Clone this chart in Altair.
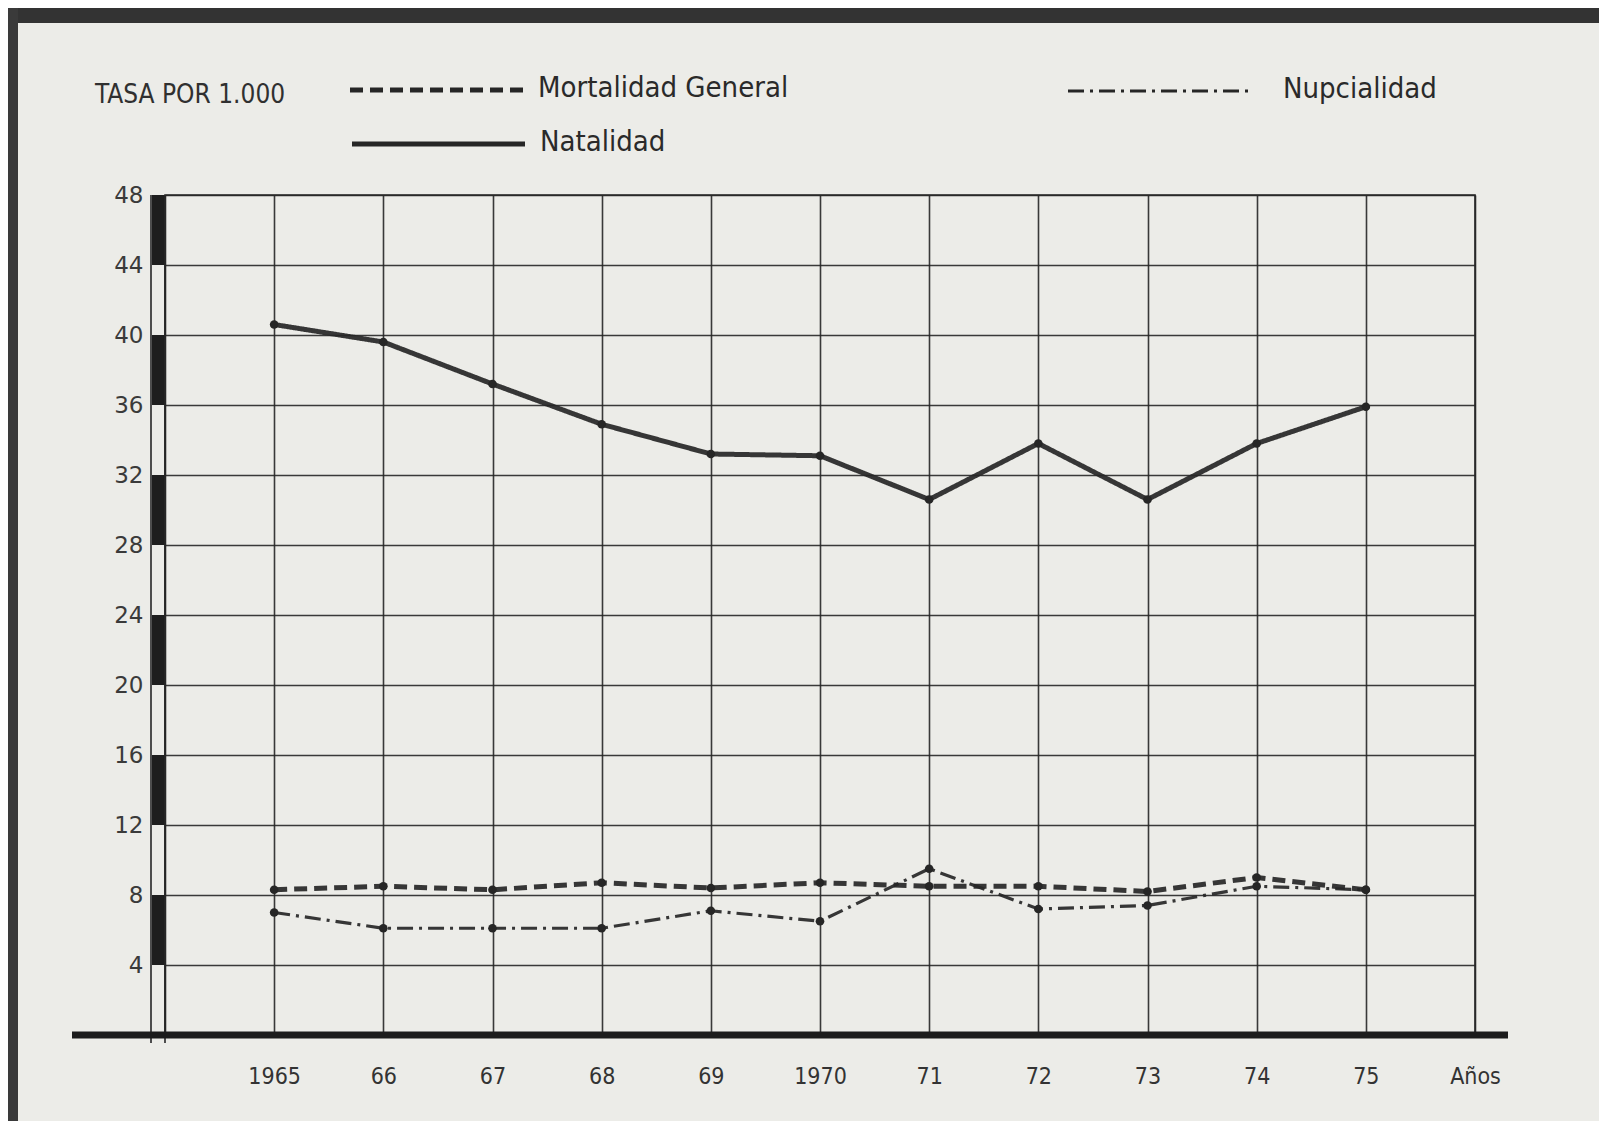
import altair as alt
import pandas as pd

# ---- data ----
years = [1965, 1966, 1967, 1968, 1969, 1970, 1971, 1972, 1973, 1974, 1975]
natalidad = [40.6, 39.6, 37.2, 34.9, 33.2, 33.1, 30.6, 33.8, 30.6, 33.8, 35.9]
mortalidad = [8.3, 8.5, 8.3, 8.7, 8.4, 8.7, 8.5, 8.5, 8.2, 9.0, 8.3]
nupcialidad = [7.0, 6.1, 6.1, 6.1, 7.1, 6.5, 9.5, 7.2, 7.4, 8.5, 8.3]

series_names = ["Mortalidad General", "Natalidad", "Nupcialidad"]
x_tick_values = [1964, 1965, 1966, 1967, 1968, 1969, 1970, 1971, 1972, 1973, 1974, 1975, 1976]
x_tick_labels = ["", "1965", "66", "67", "68", "69", "1970", "71", "72", "73", "74", "75", "Años"]
y_tick_values = [4, 8, 12, 16, 20, 24, 28, 32, 36, 40, 44, 48]
scale_bar_starts = [4, 12, 20, 28, 36, 44]
y_title = "TASA POR 1.000"

rows = []
for name, vals in zip(series_names, [mortalidad, natalidad, nupcialidad]):
    for yr, v in zip(years, vals):
        rows.append({"serie": name, "year": yr, "tasa": v})
df = pd.DataFrame(rows)

W, H = 1310, 840
INK = "#262626"
FONT = "DejaVu Sans Condensed"
BG = "#ecece8"

label_expr = "[" + ",".join("'" + s + "'" for s in x_tick_labels) + "][datum.value - 1964]"

x_scale = alt.Scale(domain=[1964, 1976], nice=False, zero=False)
y_scale = alt.Scale(domain=[0, 48], nice=False)

x_axis = alt.Axis(values=x_tick_values, labelExpr=label_expr, grid=True, ticks=False,
                  domain=False, title=None, labelFont=FONT, labelFontSize=23,
                  labelColor="#333333", labelPadding=30, labelBaseline="top",
                  labelAlign="center", gridColor=INK, gridWidth=1.6, gridOpacity=0.9,
                  labelOverlap=False, labelBound=False, labelFlush=False)
y_axis = alt.Axis(values=y_tick_values, grid=True, ticks=False, domain=False, title=None,
                  labelFont="DejaVu Sans", labelFontSize=23, labelColor="#3a3a3a",
                  labelPadding=22, gridColor=INK, gridWidth=1.6, gridOpacity=0.9,
                  labelOverlap=False, labelFlush=False)

dash = {
    "Mortalidad General": [13, 7],
    "Natalidad": [1, 0],
    "Nupcialidad": [16, 6, 3, 6],
}
width_of = {"Mortalidad General": 5, "Natalidad": 5, "Nupcialidad": 3.2}

one = pd.DataFrame({"k": [0]})

layers = []

# frame decoration
layers.append(alt.Chart(one).mark_rect(color="#333333").encode(
    x=alt.value(-165), x2=alt.value(1450), y=alt.value(-192), y2=alt.value(-172)))
layers.append(alt.Chart(one).mark_rect(color="#3a3a3a").encode(
    x=alt.value(-165), x2=alt.value(-147), y=alt.value(-195), y2=alt.value(H + 100)))

# base grid layer with axes
base = alt.Chart(df).encode(
    x=alt.X("year:Q", scale=x_scale, axis=x_axis),
    y=alt.Y("tasa:Q", scale=y_scale, axis=y_axis),
)

# left scale bar
bar_df = pd.DataFrame({"y0": scale_bar_starts, "y1": [v + 4 for v in scale_bar_starts]})
layers.append(alt.Chart(bar_df).mark_rect(color="#1e1e1e").encode(
    x=alt.value(-13), x2=alt.value(0),
    y=alt.Y("y0:Q", scale=y_scale, axis=y_axis), y2="y1:Q"))
layers.append(alt.Chart(one).mark_rule(color=INK, strokeWidth=1.6).encode(
    x=alt.value(-14), y=alt.value(0), y2=alt.value(H + 8)))
layers.append(alt.Chart(one).mark_rule(color=INK, strokeWidth=1.6).encode(
    x=alt.value(0), y=alt.value(0), y2=alt.value(H + 8)))

# data lines
for name in series_names:
    sub = base.transform_filter(alt.datum.serie == name)
    layers.append(sub.mark_line(color=INK, strokeWidth=width_of[name],
                                strokeDash=dash[name], opacity=0.92))
    layers.append(sub.mark_circle(color=INK, size=75, opacity=1))

# baseline
layers.append(alt.Chart(one).mark_rule(color="#1c1c1c", strokeWidth=7).encode(
    x=alt.value(-93), x2=alt.value(1343), y=alt.value(H), y2=alt.value(H)))

# legend / title text
legend_pos = {
    "Mortalidad General": (185, 363, -105, 373),
    "Natalidad": (187, 360, -51, 375),
    "Nupcialidad": (903, 1085, -104, 1118),
}
layers.append(alt.Chart(one).mark_text(text=y_title, font=FONT, fontSize=26, color="#303030",
                                        align="left", baseline="middle").encode(
    x=alt.value(-70), y=alt.value(-100)))
for name in series_names:
    x0, x1, yy, tx = legend_pos[name]
    layers.append(alt.Chart(one).mark_rule(color=INK, strokeWidth=width_of[name],
                                           strokeDash=dash[name]).encode(
        x=alt.value(x0), x2=alt.value(x1), y=alt.value(yy), y2=alt.value(yy)))
    layers.append(alt.Chart(one).mark_text(text=name, font=FONT, fontSize=29, color="#2a2a2a",
                                            align="left", baseline="middle").encode(
        x=alt.value(tx), y=alt.value(yy - 2)))

chart = alt.layer(base.mark_point(opacity=0), *layers).properties(
    width=W, height=H,
    background=BG,
    padding={"left": 157, "top": 187, "right": 124, "bottom": 86},
    autosize=alt.AutoSizeParams(type="none"),
).configure_view(stroke=INK, strokeWidth=1.6)

chart.save("out.html", embed_options={"renderer": "svg", "actions": False})
